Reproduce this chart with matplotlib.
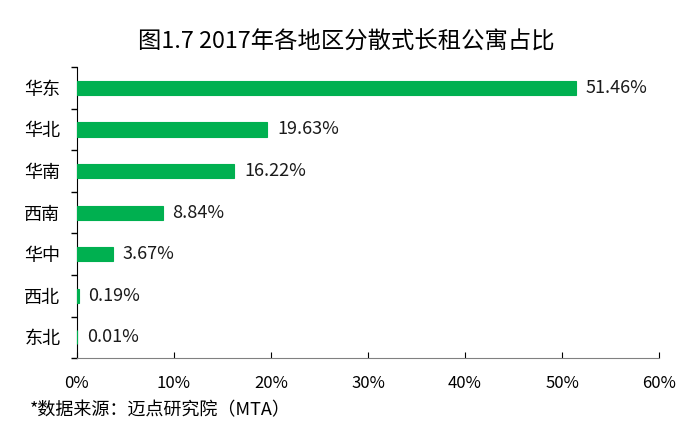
import matplotlib
matplotlib.use("Agg")
import matplotlib.pyplot as plt
from matplotlib.ticker import MultipleLocator, FuncFormatter

plt.rcParams['font.family'] = ['Noto Sans CJK SC', 'DejaVu Sans']

title = "图1.7 2017年各地区分散式长租公寓占比"
regions = ["华东", "华北", "华南", "西南", "华中", "西北", "东北"]
shares = [51.46, 19.63, 16.22, 8.84, 3.67, 0.19, 0.01]
labels = ["51.46%", "19.63%", "16.22%", "8.84%", "3.67%", "0.19%", "0.01%"]
source = "*数据来源：迈点研究院（MTA）"

fig = plt.figure(figsize=(6.93, 4.30), dpi=100)
ax = fig.add_axes([0.111, 0.167, 0.840, 0.677])

ypos = list(range(len(regions)))[::-1]
ax.barh(ypos, shares, height=0.34, color="#00B050", edgecolor="#00B050", linewidth=0.8,
        zorder=3, clip_on=False)
for y, v, lab in zip(ypos, shares, labels):
    ax.text(v + 1.0, y, lab, va="center", ha="left", fontsize=13, color="#1a1a1a")

ax.set_xlim(0, 60)
ax.set_ylim(-0.5, len(regions) - 0.5)
ax.xaxis.set_major_locator(MultipleLocator(10))
ax.xaxis.set_major_formatter(FuncFormatter(lambda x, p: f"{int(x)}%"))
ax.set_yticks(ypos)
ax.set_yticklabels(regions, fontsize=13)
ax.set_yticks([i - 0.5 for i in range(len(regions) + 1)], minor=True)
ax.tick_params(axis="y", which="major", length=0, pad=12)
ax.tick_params(axis="y", which="minor", length=4, direction="out", width=1)
ax.tick_params(axis="x", which="major", length=4, direction="in", width=0.8, pad=12, labelsize=12)

for s in ["top", "right"]:
    ax.spines[s].set_visible(False)
ax.spines["left"].set_color("#000000")
ax.spines["left"].set_zorder(2)
ax.spines["bottom"].set_color("#808080")

fig.text(0.5, 0.903, title, ha="center", va="center", fontsize=16.8)
fig.text(0.043, 0.047, source, ha="left", va="center", fontsize=13)

fig.savefig("out.png", dpi=100)
